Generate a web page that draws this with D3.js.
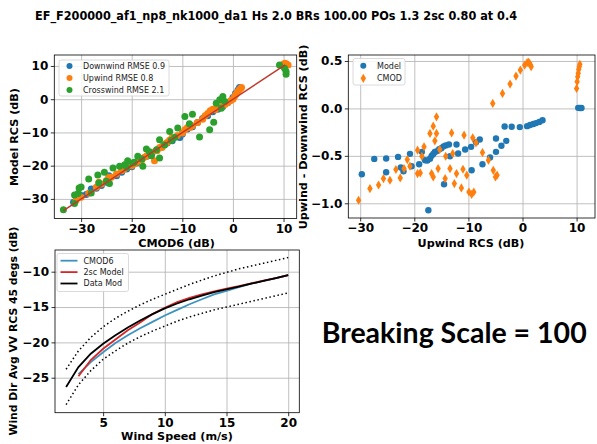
<!DOCTYPE html>
<html>
<head>
    <meta charset="utf-8">
    <title>Breaking Scale = 100</title>
    <script src="https://d3js.org/d3.v7.min.js"></script>
    <style>
        body { margin: 0; background: #fff; }
        svg { display: block; }
        .tick text { font-family: "DejaVu Sans", sans-serif; font-weight: bold; font-size: 12px; fill: #000; }
        .grid line { stroke: #b0b0b0; stroke-width: 0.8; }
        .grid path { display: none; }
        .lbl { font-family: "DejaVu Sans", sans-serif; font-weight: bold; font-size: 11.2px; }
        .leg { font-family: "DejaVu Sans", sans-serif; font-size: 8px; fill: #222; }
    </style>
</head>
<body>
<div id="chart"></div>
<script>
    // ---- data ----
    const titleText = 'EF_F200000_af1_np8_nk1000_da1 Hs 2.0 BRs 100.00 POs 1.3 2sc 0.80 at 0.4';

    // top left: model RCS vs CMOD6 (dB), pairs [cmod6, model]
    const downwindPts = [[-31.5,-31],[-30,-29],[-29,-28.7],[-28,-27],[-27,-26.8],[-26,-26],[-25,-25],[-24.5,-23],
        [-23,-23],[-22,-22],[-21,-21],[-20,-20.3],[-19,-19.2],[-18,-18],[-17,-17.2],[-16,-16.3],[-15,-15.3],
        [-14,-14.2],[-13,-13.2],[-12,-12.5],[-10.5,-11.5],[-10,-10.5],[-9,-9],[-8,-8.3],[-7,-7],[-6,-5.8],
        [-5,-5],[-4,-3.8],[-3,-3],[-2,-2.2],[-1,-1],[0,0.5],[0.5,1.7],[1.0,2.8],[1.3,3.5],[9.8,10.1],[10.1,10.3],[10.4,10.1]];
    const upwindPts = [[-31,-30.5],[-30,-29.5],[-28.5,-28.3],[-27,-26.5],[-26.5,-25],[-26,-25.5],[-25,-24.5],
        [-24.5,-23.5],[-24,-23.5],[-23,-22.5],[-22,-21.5],[-21.5,-21],[-21,-20.5],[-20,-20],[-19.5,-19.5],
        [-19,-19],[-18,-18.3],[-17.5,-17.5],[-17,-17],[-16.5,-16.5],[-16,-16],[-15.5,-18.5],[-15,-15.5],
        [-14.5,-14.5],[-14,-14.5],[-13.5,-13.5],[-13,-13],[-12.5,-12.3],[-12,-11.5],[-11,-11],[-10,-10.2],
        [-9.5,-9.2],[-9,-8.5],[-8.5,-8.5],[-8,-8],[-7,-7],[-6,-6],[-5.5,-5],[-5,-4.3],[-4.5,-3.5],[-4,-3],
        [-3.5,-3.2],[-3,-2.5],[-2,-2],[-1.5,-1.5],[-1,-1],[-0.5,-0.5],[0,0],[0.3,0.8],[0.6,1.5],[0.9,2.2],
        [1.2,2.8],[1.5,3.2],[1.7,3.5],[10.0,10.6],[10.3,10.8],[10.6,10.6],[10.9,10.3]];
    const crosswindPts = [[-33.5,-33.3],[-31.3,-31.4],[-31.3,-28.8],[-30.6,-28.4],[-30.4,-26.7],[-30.0,-26.4],
        [-28.5,-24.0],[-28.0,-28.2],[-26.7,-22.8],[-26.5,-25.2],[-25.4,-22.0],[-25.0,-24.7],[-24.4,-25.4],
        [-23.7,-20.7],[-22.4,-20.2],[-21.4,-19.7],[-21.0,-20.5],[-20.8,-18.5],[-19.8,-19.2],[-19.5,-19.0],
        [-18.8,-17.2],[-18.0,-18.0],[-17.8,-20.2],[-17.1,-15.0],[-16.5,-15.8],[-16.1,-17.0],[-15.1,-15.2],
        [-14.5,-17.7],[-14.5,-12.2],[-13.5,-13.8],[-12.5,-9.7],[-12.2,-12.4],[-11.5,-11.5],[-10.9,-8.7],
        [-9.5,-5.2],[-8.6,-7.4],[-8.0,-4.5],[-6.6,-11.4],[-4.6,-9.2],[-3.8,-6.9],[-3.3,-1.2],[-2.6,-0.2],
        [-2.3,-2.7],[-2.0,0.8],[-1.6,-0.7],[9.2,10.3],[10.2,9.3],[10.5,8.3],[10.5,7.5]];
    const fitLine = [[-33.5,-33.5],[10.3,10.3]];
    const tlLabels = ['Downwind RMSE 0.9', 'Upwind RMSE 0.8', 'Crosswind RMSE 2.1'];

    // top right: upwind - downwind RCS vs upwind RCS, pairs [upwind, diff]
    const modelPts = [[-29.7,-0.694],[-27.4,-0.532],[-25.2,-0.528],[-25.2,-0.673],[-23.0,-0.511],[-22.5,-0.623],
        [-22.0,-0.662],[-20.8,-0.479],[-20.5,-0.609],[-19.1,-0.588],[-18.6,-0.458],[-18.0,-0.546],[-17.4,-1.074],
        [-17.6,-0.55],[-17.1,-0.53],[-16.8,-0.50],[-16.5,-0.48],[-16.2,-0.46],[-15.8,-0.45],[-15.4,-0.43],
        [-15.0,-0.42],[-14.6,-0.40],[-14.2,-0.39],[-13.6,-0.38],[-14.5,-0.80],[-13.4,-0.504],[-12.2,-0.38],
        [-11.9,-0.475],[-10.6,-0.433],[-9.4,-0.652],[-9.5,-0.405],[-8.6,-0.356],[-7.9,-0.327],[-7.4,-0.588],
        [-6.0,-0.517],[-4.9,-0.317],[-4.9,-0.458],[-3.9,-0.394],[-3.0,-0.342],[-3.3,-0.19],[-2.0,-0.194],
        [-0.5,-0.197],[0.85,-0.187],[1.4,-0.175],[2.0,-0.165],[2.5,-0.155],[3.1,-0.142],[3.7,-0.124],
        [10.3,0.006],[10.6,0.004],[10.9,0.004]];
    const cmodPts = [[-30.3,-0.968],[-28.2,-0.845],[-26.6,-0.807],[-25.7,-0.739],[-24.5,-0.757],[-23.4,-0.644],
        [-22.6,-0.733],[-21.9,-0.634],[-21.3,-0.539],[-20.8,-0.609],[-19.4,-0.687],[-19.4,-0.44],[-18.9,-0.68],
        [-18.6,-0.504],[-18.2,-0.405],[-17.1,-0.264],[-16.8,-0.687],[-16.5,-0.187],[-16.5,-0.722],[-16.2,-0.342],
        [-15.9,-0.089],[-15.9,-0.264],[-15.6,-0.634],[-15.3,-0.433],[-14.3,-0.739],[-14.2,-0.504],[-13.4,-0.634],
        [-13.1,-0.258],[-12.9,-0.475],[-12.6,-0.792],[-12.2,-0.687],[-11.3,-0.838],[-11.0,-0.641],[-10.8,-0.282],
        [-10.3,-0.704],[-9.9,-0.881],[-9.4,-0.905],[-9.0,-0.881],[-9.2,-0.31],[-8.6,-0.363],[-7.4,-0.465],
        [-6.3,-0.546],[-5.4,-0.652],[-5.0,-0.722],[-4.7,-0.704],[-5.5,0.053],[-3.7,0.158],[-2.3,0.257],
        [-1.2,0.341],[-0.4,0.404],[0.4,0.457],[0.85,0.482],[1.1,0.485],[1.3,0.475],[1.5,0.455],[1.6,0.44],
        [10.0,0.211],[10.1,0.282],[10.2,0.334],[10.3,0.37],[10.4,0.41],[10.5,0.44],[10.6,0.465]];
    const trLabels = ['Model', 'CMOD'];

    // bottom: wind-direction averaged RCS vs wind speed
    const windSpeed = [2,3,4,5,6,7,8,9,10,11,12,13,14,15,16,17,18,19,20];
    const cmod6Curve = [null,-24.5,-22.8,-21.4,-20.1,-19.0,-18.0,-17.1,-16.2,-15.4,-14.6,-13.9,-13.2,-12.7,-12.2,-11.7,-11.3,-10.9,-10.5];
    const model2scCurve = [null,-24.8,-22.5,-20.9,-19.6,-18.3,-17.2,-16.0,-15.1,-14.3,-13.7,-13.2,-12.8,-12.4,-12.05,-11.65,-11.25,-10.9,-10.5];
    const dataModCurve = [-26.3,-23.5,-21.6,-20.2,-19.0,-17.9,-16.9,-16.0,-15.2,-14.5,-13.9,-13.4,-12.9,-12.5,-12.1,-11.7,-11.3,-10.9,-10.5];
    const upperBound = [-23.8,-21.2,-19.3,-17.8,-16.6,-15.6,-14.7,-13.9,-13.2,-12.5,-11.8,-11.2,-10.6,-10.1,-9.6,-9.2,-8.8,-8.4,-8.0];
    const lowerBound = [-28.8,-26.0,-24.0,-22.4,-21.2,-20.1,-19.2,-18.4,-17.7,-17.0,-16.4,-15.9,-15.4,-15.0,-14.6,-14.2,-13.8,-13.4,-13.0];
    const bLabels = ['CMOD6', '2sc Model', 'Data Mod'];

    const W = 597, H = 444;
    const svg = d3.select('#chart').append('svg').attr('width', W).attr('height', H);

    svg.append('text')
        .attr('x', 276).attr('y', 20)
        .attr('text-anchor', 'middle')
        .attr('class', 'lbl').style('font-size', '12px')
        .attr('textLength', 482).attr('lengthAdjust', 'spacingAndGlyphs')
        .text(titleText);

    // generic panel: grid, ticks, frame
    function panel(id, box, xDom, yDom, xTicks, yTicks, yFmt) {
        const x = d3.scaleLinear().domain(xDom).range([box.x0, box.x1]);
        const y = d3.scaleLinear().domain(yDom).range([box.y1, box.y0]);
        const g = svg.append('g');
        g.append('g').attr('class', 'grid').attr('transform', `translate(0,${box.y1})`)
            .call(d3.axisBottom(x).tickValues(xTicks).tickSize(-(box.y1 - box.y0)).tickFormat(''));
        g.append('g').attr('class', 'grid').attr('transform', `translate(${box.x0},0)`)
            .call(d3.axisLeft(y).tickValues(yTicks).tickSize(-(box.x1 - box.x0)).tickFormat(''));
        svg.append('clipPath').attr('id', id)
            .append('rect').attr('x', box.x0).attr('y', box.y0)
            .attr('width', box.x1 - box.x0).attr('height', box.y1 - box.y0);
        const plot = g.append('g').attr('clip-path', `url(#${id})`);
        const frame = () => {
            g.append('rect').attr('x', box.x0).attr('y', box.y0)
                .attr('width', box.x1 - box.x0).attr('height', box.y1 - box.y0)
                .attr('fill', 'none').attr('stroke', '#000').attr('stroke-width', 0.8);
            const ax = g.append('g').attr('transform', `translate(0,${box.y1})`)
                .call(d3.axisBottom(x).tickValues(xTicks).tickSize(3.5).tickPadding(2).tickFormat(d3.format('d')));
            const ay = g.append('g').attr('transform', `translate(${box.x0},0)`)
                .call(d3.axisLeft(y).tickValues(yTicks).tickSize(3.5).tickPadding(2.5).tickFormat(d3.format(yFmt)));
            [ax, ay].forEach(a => { a.select('.domain').remove(); a.selectAll('line').attr('stroke-width', 0.8); });
        };
        return { x, y, g, plot, frame };
    }

    function legendBox(g, x, y, w, h) {
        g.append('rect').attr('x', x).attr('y', y).attr('width', w).attr('height', h)
            .attr('rx', 2).attr('fill', '#fff').attr('fill-opacity', 0.85)
            .attr('stroke', '#d0d0d0').attr('stroke-width', 0.8);
    }

    const thinDiamond = (cx, cy) => `M${cx},${cy - 4.6}L${cx + 2.7},${cy}L${cx},${cy + 4.6}L${cx - 2.7},${cy}Z`;

    // ---- top left ----
    const tl = panel('c1', { x0: 54.3, x1: 296.7, y0: 55, y1: 218.5 }, [-35.3, 12.6], [-35.9, 13.3],
        [-30, -20, -10, 0, 10], [-30, -20, -10, 0, 10], 'd');
    const tlColors = ['#1f77b4', '#ff7f0e', '#2ca02c'];
    [downwindPts, upwindPts, crosswindPts].forEach((pts, i) => {
        tl.plot.append('g').selectAll('circle').data(pts).enter().append('circle')
            .attr('cx', d => tl.x(d[0])).attr('cy', d => tl.y(d[1]))
            .attr('r', 3.5).attr('fill', tlColors[i]);
    });
    tl.plot.append('path').datum(fitLine)
        .attr('d', d3.line().x(d => tl.x(d[0])).y(d => tl.y(d[1])))
        .attr('stroke', '#c0392b').attr('stroke-width', 1.5).attr('fill', 'none');
    tl.frame();
    legendBox(tl.g, 59, 60, 110, 36);
    tlLabels.forEach((t, i) => {
        tl.g.append('circle').attr('cx', 69.5).attr('cy', 66 + i * 12).attr('r', 3).attr('fill', tlColors[i]);
        tl.g.append('text').attr('class', 'leg').attr('x', 83).attr('y', 69 + i * 12).text(t);
    });
    svg.append('text').attr('class', 'lbl').attr('text-anchor', 'middle')
        .attr('x', 176.5).attr('y', 246.5).text('CMOD6 (dB)');
    svg.append('text').attr('class', 'lbl').attr('text-anchor', 'middle')
        .attr('transform', 'translate(18,137) rotate(-90)').text('Model RCS (dB)');

    // ---- top right ----
    const tr = panel('c2', { x0: 348.3, x1: 595, y0: 55, y1: 218 }, [-32.2, 13.4], [-1.155, 0.563],
        [-30, -20, -10, 0, 10], [-1.0, -0.5, 0, 0.5], '.1f');
    tr.plot.append('g').selectAll('circle').data(modelPts).enter().append('circle')
        .attr('cx', d => tr.x(d[0])).attr('cy', d => tr.y(d[1]))
        .attr('r', 3.2).attr('fill', '#1f77b4');
    tr.plot.append('g').selectAll('path').data(cmodPts).enter().append('path')
        .attr('d', d => thinDiamond(tr.x(d[0]), tr.y(d[1])))
        .attr('fill', '#ff7f0e');
    tr.frame();
    legendBox(tr.g, 353, 58.5, 52, 26.5);
    tr.g.append('circle').attr('cx', 363.3).attr('cy', 65.7).attr('r', 3).attr('fill', '#1f77b4');
    tr.g.append('path').attr('d', thinDiamond(363.3, 78.3)).attr('fill', '#ff7f0e');
    trLabels.forEach((t, i) => {
        tr.g.append('text').attr('class', 'leg').attr('x', 377).attr('y', 68.7 + i * 12.6).text(t);
    });
    svg.append('text').attr('class', 'lbl').attr('text-anchor', 'middle')
        .attr('x', 471).attr('y', 246.5).text('Upwind RCS (dB)');
    svg.append('text').attr('class', 'lbl').attr('text-anchor', 'middle')
        .attr('transform', 'translate(306.5,137) rotate(-90)').text('Upwind - Downwind RCS (dB)');

    // ---- bottom ----
    const bt = panel('c3', { x0: 55, x1: 299.3, y0: 250, y1: 412.7 }, [1.1, 20.9], [-29.95, -6.93],
        [5, 10, 15, 20], [-25, -20, -15, -10], 'd');
    const curve = vals => d3.line()
        .defined((d, i) => vals[i] !== null)
        .x((d, i) => bt.x(windSpeed[i])).y((d, i) => bt.y(vals[i]))(windSpeed);
    [upperBound, lowerBound].forEach(v => {
        bt.plot.append('path').attr('d', curve(v)).attr('fill', 'none')
            .attr('stroke', '#000').attr('stroke-width', 1.5).attr('stroke-dasharray', '1.5,2.6');
    });
    const bColors = ['#3d93c0', '#d62728', '#000'];
    [cmod6Curve, model2scCurve, dataModCurve].forEach((v, i) => {
        bt.plot.append('path').attr('d', curve(v)).attr('fill', 'none')
            .attr('stroke', bColors[i]).attr('stroke-width', 1.8);
    });
    bt.frame();
    legendBox(bt.g, 57, 253.5, 71.5, 38);
    bLabels.forEach((t, i) => {
        bt.g.append('line').attr('x1', 60.5).attr('x2', 77.5)
            .attr('y1', 260.7 + i * 11.4).attr('y2', 260.7 + i * 11.4)
            .attr('stroke', bColors[i]).attr('stroke-width', 1.8);
        bt.g.append('text').attr('class', 'leg').attr('x', 83.5).attr('y', 263.5 + i * 11.4).text(t);
    });
    svg.append('text').attr('class', 'lbl').attr('text-anchor', 'middle')
        .attr('x', 177).attr('y', 440).text('Wind Speed (m/s)');
    svg.append('text').attr('class', 'lbl').attr('text-anchor', 'middle').style('font-size', '10.8px')
        .attr('transform', 'translate(17,331) rotate(-90)').text('Wind Dir Avg VV RCS 45 degs (dB)');

    svg.append('text')
        .attr('x', 321.7).attr('y', 343)
        .attr('font-family', 'Lato, "Open Sans", sans-serif').attr('font-weight', 'bold').attr('font-size', 28.5)
        .text('Breaking Scale = 100');
</script>
</body>
</html>
